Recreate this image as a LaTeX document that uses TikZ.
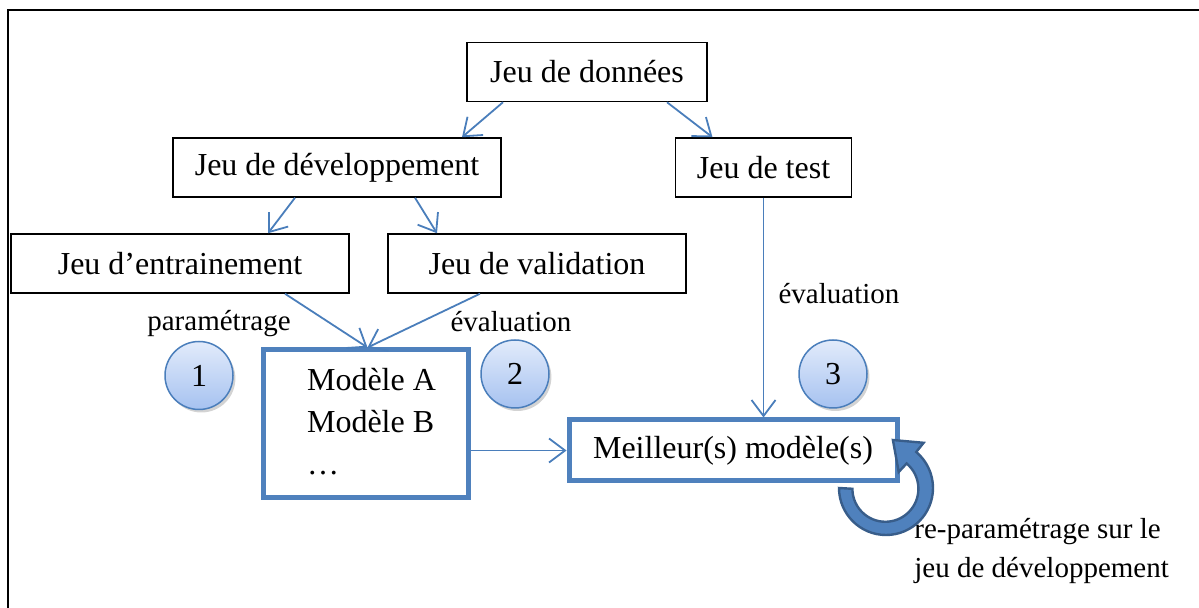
\documentclass[tikz,border=0pt]{standalone}
\usepackage{fontspec}
\setmainfont{Liberation Serif}
\usetikzlibrary{arrows.meta,calc,shadows}
\definecolor{bleuligne}{RGB}{74,126,187}
\definecolor{bleucadre}{RGB}{79,129,189}
\definecolor{bleuhaut}{RGB}{226,235,251}
\definecolor{bleubas}{RGB}{166,194,240}
\definecolor{bleufonce}{RGB}{56,93,138}

\begin{document}
\begin{tikzpicture}[x=0.5pt,y=-0.5pt,
    boite/.style={draw=black,line width=0.75pt,minimum height=29.5pt,inner sep=0pt,font=\fontsize{16}{19}\selectfont},
    cadre/.style={draw=bleucadre,line width=2.5pt,inner sep=0pt,font=\fontsize{16}{21}\selectfont},
    fleche/.style={draw=bleuligne,line width=0.9pt,-{Straight Barb[length=8pt,width=12pt]}},
    etape/.style={circle,draw=bleuligne,line width=0.75pt,minimum size=34pt,inner sep=0pt,top color=bleuhaut,bottom color=bleubas,drop shadow={opacity=0.35,shadow xshift=1.2pt,shadow yshift=-1.5pt},font=\fontsize{16}{19}\selectfont},
    etiquette/.style={font=\fontsize{14.5}{19.5}\selectfont,inner sep=0pt}]
        \useasboundingbox (0,0) rectangle (1199,608); %limites de l'image
        \draw[line width=0.75pt] (8,608) -- (8,10) -- (1199,10); %cadre exterieur

        \node[boite,minimum width=120pt] (donnees) at (587,72) {Jeu de données}; %jeu complet
        \node[boite,minimum width=164pt] (dev) at (337,167.5) {Jeu de développement}; %developpement
        \node[boite,minimum width=88pt] (test) at (763.5,167.5) {Jeu de test}; %test
        \node[boite,minimum width=169pt] (entr) at (180,263.5) {Jeu d’entrainement}; %entrainement
        \node[boite,minimum width=149pt] (valid) at (537,263.5) {Jeu de validation}; %validation
        \node[cadre,minimum width=102.5pt,minimum height=74pt] (modeles) at (365.5,424) {\begin{tabular}{@{\hspace{6pt}}l@{}}Modèle A\\Modèle B\\…\end{tabular}}; %modeles candidats
        \node[cadre,minimum width=164pt,minimum height=30.5pt] (meilleur) at (733,450.5) {Meilleur(s) modèle(s)}; %modele retenu

        \node[etape] (un) at (199,375.5) {1}; %etape 1
        \node[etape] (deux) at (515,374) {2}; %etape 2
        \node[etape] (trois) at (833,374) {3}; %etape 3

        \node[etiquette] (param) at (219,324) {paramétrage};
        \node[etiquette] (evalun) at (511,322) {évaluation};
        \node[etiquette] (evaldeux) at (839,294) {évaluation};
        \node[etiquette,anchor=west,align=left] (repar) at (914,551) {re-paramétrage sur le\\jeu de développement};

        \draw[fleche] ($(donnees.south)+(-84,0)$) -- ($(dev.north)+(125,0)$);
        \draw[fleche] ($(donnees.south)+(80,0)$) -- ($(test.north)+(-51,0)$);
        \draw[fleche] ($(dev.south)+(-42,0)$) -- ($(entr.north)+(88,0)$);
        \draw[fleche] ($(dev.south)+(78,0)$) -- ($(valid.north)+(-100,0)$);
        \draw[fleche] ($(entr.south)+(105,0)$) -- ($(modeles.north)+(2,0)$);
        \draw[fleche] ($(valid.south)+(-57,0)$) -- ($(modeles.north)+(2,0)$);
        \draw[fleche] (test.south) -- (test.south |- meilleur.north);
        \draw[fleche] (modeles.east |- meilleur.west) -- (meilleur.west);

        \filldraw[fill=bleucadre,draw=bleufonce,line width=1.2pt] (839,488) arc[start angle=180,end angle=-50,radius=47] -- (923.6,442.8) -- (892.9,440.0) -- (898.7,472.0) -- (906.6,463.5) arc[start angle=-50,end angle=180,radius=33] -- cycle; %fleche circulaire
    \end{tikzpicture}
\end{document}
